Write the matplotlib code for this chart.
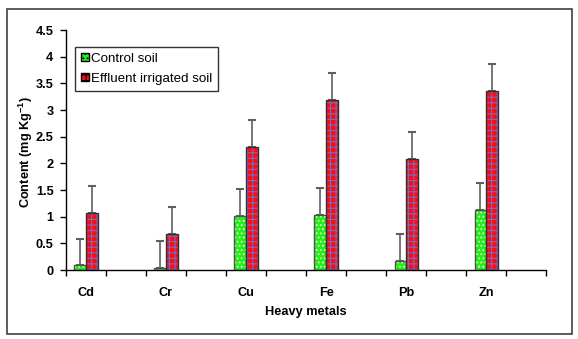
import numpy as np
import matplotlib.pyplot as plt
from matplotlib.patches import Rectangle

plt.rcParams['font.family'] = ['Liberation Sans', 'DejaVu Sans']
plt.rcParams['font.weight'] = 'bold'
plt.rcParams['axes.labelweight'] = 'bold'
plt.rcParams['mathtext.fontset'] = 'custom'
plt.rcParams['mathtext.bf'] = 'Liberation Sans:bold'
plt.rcParams['mathtext.rm'] = 'Liberation Sans:bold'
plt.rcParams['hatch.linewidth'] = 0.8

metals = ['Cd', 'Cr', 'Cu', 'Fe', 'Pb', 'Zn']
control = [0.09, 0.04, 1.02, 1.04, 0.17, 1.13]
effluent = [1.07, 0.68, 2.31, 3.19, 2.08, 3.36]
control_err = [0.5, 0.5, 0.5, 0.5, 0.5, 0.5]
effluent_err = [0.5, 0.5, 0.5, 0.5, 0.5, 0.5]

fig = plt.figure(figsize=(5.78, 3.39), dpi=100)
fig.patches.append(Rectangle((7 / 578, 5 / 339), 565 / 578, 325 / 339,
                             transform=fig.transFigure, fill=False,
                             edgecolor='#404040', linewidth=1.2))
ax = fig.add_axes([0.114, 0.2035, 0.831, 0.708])

# each metal sits in every other slot of the category axis
x = np.arange(len(metals)) * 2
w = 0.29

# hatch first (edge colour = hatch colour), then outline on top
ax.bar(x - w / 2, control, w, color='#22ee22', edgecolor='#eeffaa',
       hatch='....', linewidth=0, zorder=2)
ax.bar(x - w / 2, control, w, facecolor='none', edgecolor='#505050',
       linewidth=1, zorder=3)
ax.bar(x + w / 2, effluent, w, color='#ff0a14', edgecolor='#7070c0',
       hatch='+++', linewidth=0, zorder=2)
ax.bar(x + w / 2, effluent, w, facecolor='none', edgecolor='#303030',
       linewidth=1, zorder=3)

for xs, vals, errs in [(x - w / 2, control, control_err),
                       (x + w / 2, effluent, effluent_err)]:
    eb = ax.errorbar(xs, vals, yerr=[np.zeros(len(errs)), errs], fmt='none',
                     ecolor='#606060', elinewidth=1.2, capsize=3,
                     capthick=1.5, zorder=1)
    for cap in eb[1]:
        cap.set_color('black')

# legend proxies drawn with the same fills
h1 = Rectangle((0, 0), 1, 1, facecolor='#22ee22', edgecolor='black', hatch='....')
h2 = Rectangle((0, 0), 1, 1, facecolor='#ff0a14', edgecolor='black', hatch='+++')
leg = ax.legend([h1, h2], ['Control soil', 'Effluent irrigated soil'],
                loc='upper left', bbox_to_anchor=(0.019, 0.93), borderaxespad=0,
                fancybox=False, edgecolor='black', handlelength=0.6,
                handleheight=0.6, handletextpad=0.15, borderpad=0.45,
                labelspacing=0.6, prop={'size': 9.6, 'weight': 'normal'})
leg.get_frame().set_linewidth(1)

ax.set_xlim(-0.5, 11.5)
ax.set_ylim(0, 4.5)
ax.set_yticks(np.arange(0, 4.51, 0.5))
ax.set_yticklabels([f'{v:g}' for v in np.arange(0, 4.51, 0.5)], fontsize=9.2)
ax.set_xticks(np.arange(-0.5, 12, 1))
ax.set_xticklabels([])
ax.set_xticks(x, minor=True)
ax.set_xticklabels(metals, minor=True, fontsize=9.2)
ax.tick_params(axis='x', which='minor', length=0, pad=12)
ax.tick_params(axis='x', which='major', length=4, width=1, direction='out')
ax.tick_params(axis='y', length=4, width=1, direction='out', pad=5)

for s in ['top', 'right']:
    ax.spines[s].set_visible(False)
for s in ['left', 'bottom']:
    ax.spines[s].set_linewidth(1)

ax.set_xlabel('Heavy metals', fontsize=9.2, labelpad=5)
ax.set_ylabel('Content (mg Kg$^{\\mathbf{-1}}$)', fontsize=9.2)
ax.yaxis.set_label_coords(-0.064, 0.49)

fig.savefig('out.png', dpi=100)
